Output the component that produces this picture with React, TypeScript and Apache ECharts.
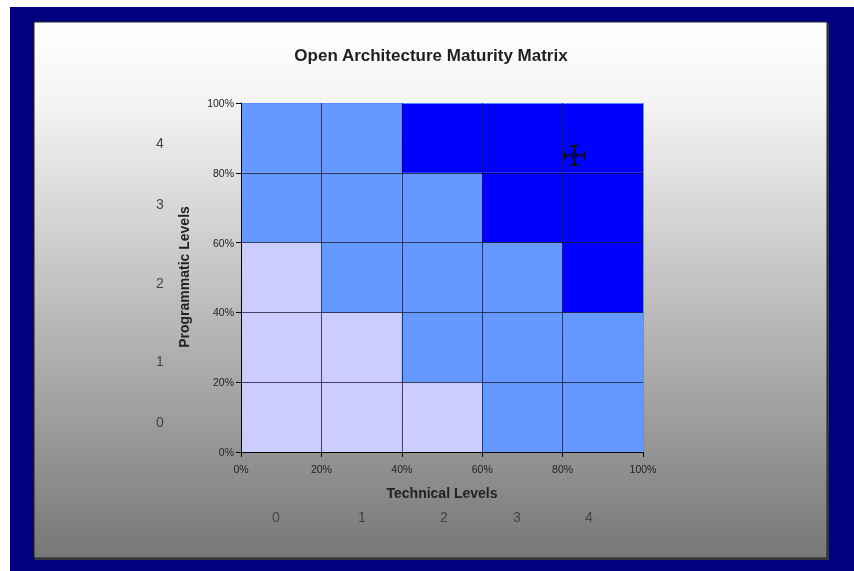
import React, { useEffect, useRef } from "react";
import * as echarts from "echarts";

// ---- Data ----
const TITLE = "Open Architecture Maturity Matrix";
const X_NAME = "Technical Levels";
const Y_NAME = "Programmatic Levels";
const TECH_LEVELS = ["0", "1", "2", "3", "4"];
const PROG_LEVELS = ["0", "1", "2", "3", "4"];
const PCT_MIN = 0;
const PCT_MAX = 100;
const PCT_STEP = 20;
// maturity class for each cell: one row per programmatic level (bottom to top), one column per technical level
const ROW_0 = [0, 0, 0, 1, 1];
const ROW_1 = [0, 0, 1, 1, 1];
const ROW_2 = [0, 1, 1, 1, 2];
const ROW_3 = [1, 1, 1, 2, 2];
const ROW_4 = [1, 1, 2, 2, 2];
const ROWS = [ROW_0, ROW_1, ROW_2, ROW_3, ROW_4];
const CLASS_COLORS = ["#CCCCFF", "#6699FF", "#0000FF"];
// assessed position with error bars (percent)
const ASSESS_X = 83;
const ASSESS_Y = 85;
const ERR_X = 2.5;
const ERR_Y = 2.7;

// ---- Layout constants ----
const GRID = { left: 241, top: 103, width: 402, height: 349 };
const LEFT_LEVEL_X = 160;
const LEFT_LEVEL_Y = [422, 361, 283, 204, 143];
const BOTTOM_LEVEL_X = [276, 362, 444, 517, 589];
const BOTTOM_LEVEL_Y = 517;
const FONT = '"Liberation Sans", Arial, sans-serif';

const cells: number[][] = [];
ROWS.forEach((row, r) => {
  row.forEach((cls, c) => {
    cells.push([c * PCT_STEP, r * PCT_STEP, (c + 1) * PCT_STEP, (r + 1) * PCT_STEP, cls]);
  });
});

const DARK = "rgba(10,10,40,0.7)";
const EDGE = "#5a8cff";

function axis(margin: number) {
  return {
    type: "value",
    min: PCT_MIN,
    max: PCT_MAX,
    interval: PCT_STEP,
    z: 5,
    axisLine: { show: true, onZero: false, lineStyle: { color: "#000", width: 1 } },
    axisTick: { show: true, length: 5, lineStyle: { color: "#000", width: 1 } },
    axisLabel: {
      formatter: "{value}%",
      fontSize: 10.5,
      color: "#222",
      fontFamily: FONT,
      margin,
    },
    splitLine: {
      show: true,
      lineStyle: { color: ["rgba(0,0,0,0)", DARK, DARK, DARK, DARK, EDGE], width: 1 },
    },
  };
}

export default function App() {
  const ref = useRef<HTMLDivElement>(null);
  useEffect(() => {
    if (!ref.current) return;
    const chart = echarts.init(ref.current, undefined, { renderer: "svg" });

    const graphics: any[] = [
      { type: "rect", z: -10, shape: { x: 0, y: 0, width: 854, height: 571 }, style: { fill: "#ffffff" }, silent: true },
      { type: "rect", z: -9, shape: { x: 10, y: 7, width: 844, height: 564 }, style: { fill: "#000080" }, silent: true },
      { type: "rect", z: -8, shape: { x: 35, y: 23, width: 794, height: 537 }, style: { fill: "#3a3a3a" }, silent: true },
      {
        type: "rect",
        z: -7,
        shape: { x: 34, y: 22, width: 793, height: 536 },
        style: {
          fill: new echarts.graphic.LinearGradient(0, 0, 0, 1, [
            { offset: 0, color: "#ffffff" },
            { offset: 0.15, color: "#f4f4f4" },
            { offset: 1, color: "#777777" },
          ]),
          stroke: "#222",
          lineWidth: 1,
        },
        silent: true,
      },
      {
        type: "text",
        x: 431,
        y: 55,
        style: { text: TITLE, font: `bold 17px ${FONT}`, fill: "#222", align: "center", verticalAlign: "middle" },
      },
      {
        type: "text",
        x: 442,
        y: 493,
        style: { text: X_NAME, font: `bold 14px ${FONT}`, fill: "#222", align: "center", verticalAlign: "middle" },
      },
      {
        type: "text",
        x: 184,
        y: 277,
        rotation: Math.PI / 2,
        style: { text: Y_NAME, font: `bold 14px ${FONT}`, fill: "#222", align: "center", verticalAlign: "middle" },
      },
    ];
    PROG_LEVELS.forEach((t, i) => {
      graphics.push({
        type: "text",
        x: LEFT_LEVEL_X,
        y: LEFT_LEVEL_Y[i],
        style: { text: t, font: `14px ${FONT}`, fill: "#444", align: "center", verticalAlign: "middle" },
      });
    });
    TECH_LEVELS.forEach((t, i) => {
      graphics.push({
        type: "text",
        x: BOTTOM_LEVEL_X[i],
        y: BOTTOM_LEVEL_Y,
        style: { text: t, font: `14px ${FONT}`, fill: "#444", align: "center", verticalAlign: "middle" },
      });
    });

    chart.setOption({
      animation: false,
      graphic: { elements: graphics },
      grid: { ...GRID, containLabel: false },
      xAxis: axis(11),
      yAxis: axis(7),
      series: [
        {
          type: "custom",
          z: 2,
          data: cells,
          encode: { x: [0, 2], y: [1, 3] },
          renderItem: (params: any, api: any) => {
            const p0 = api.coord([api.value(0), api.value(1)]);
            const p1 = api.coord([api.value(2), api.value(3)]);
            return {
              type: "rect",
              shape: { x: p0[0], y: p1[1], width: p1[0] - p0[0], height: p0[1] - p1[1] },
              style: { fill: CLASS_COLORS[api.value(4) as number] },
            };
          },
        },
        {
          type: "custom",
          z: 8,
          data: [[ASSESS_X, ASSESS_Y, ERR_X, ERR_Y]],
          encode: { x: 0, y: 1 },
          renderItem: (params: any, api: any) => {
            const x = api.value(0), y = api.value(1), ex = api.value(2), ey = api.value(3);
            const c = api.coord([x, y]);
            const l = api.coord([x - ex, y]);
            const r = api.coord([x + ex, y]);
            const t = api.coord([x, y + ey]);
            const b = api.coord([x, y - ey]);
            const cap = 4;
            const st = { stroke: "#111", lineWidth: 2 };
            const ln = (x1: number, y1: number, x2: number, y2: number) => ({
              type: "line",
              shape: { x1, y1, x2, y2 },
              style: st,
            });
            return {
              type: "group",
              children: [
                ln(l[0], l[1], r[0], r[1]),
                ln(t[0], t[1], b[0], b[1]),
                ln(l[0], l[1] - cap, l[0], l[1] + cap),
                ln(r[0], r[1] - cap, r[0], r[1] + cap),
                ln(t[0] - cap, t[1], t[0] + cap, t[1]),
                ln(b[0] - cap, b[1], b[0] + cap, b[1]),
                { type: "circle", shape: { cx: c[0], cy: c[1], r: 3.5 }, style: { fill: "#000066" } },
              ],
            };
          },
        },
      ],
    });
    return () => chart.dispose();
  }, []);
  return (
    <div
      ref={ref}
      style={{ position: "fixed", left: 0, top: 0, width: 854, height: 571 }}
    />
  );
}
